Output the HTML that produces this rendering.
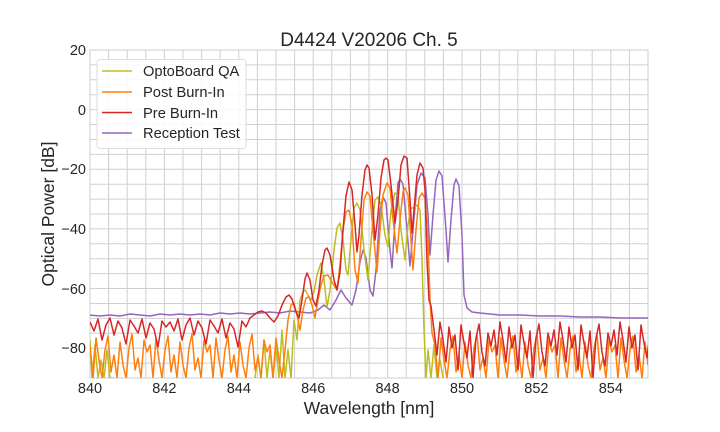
<!DOCTYPE html>
<html><head><meta charset="utf-8"><style>
html,body{margin:0;padding:0;background:#fff;}
svg{display:block;font-family:"Liberation Sans",Arial,sans-serif;}
</style></head><body>
<svg width="720" height="432" viewBox="0 0 720 432" xmlns="http://www.w3.org/2000/svg">
<defs><clipPath id="c"><rect x="90" y="50" width="558" height="328"/></clipPath></defs>
<rect x="0" y="0" width="720" height="432" fill="#fff"/>
<path stroke="#d0d0d0" stroke-width="1" fill="none" d="
M108.6 50V378M127.2 50V378M145.8 50V378M164.4 50V378M183 50V378M201.6 50V378M220.2 50V378M238.8 50V378M257.4 50V378M276 50V378M294.6 50V378M313.2 50V378M331.8 50V378M350.4 50V378M369 50V378M387.6 50V378M406.2 50V378M424.8 50V378M443.4 50V378M462 50V378M480.6 50V378M499.2 50V378M517.8 50V378M536.4 50V378M555 50V378M573.6 50V378M592.2 50V378M610.8 50V378M629.4 50V378
M90 64.9H648M90 79.8H648M90 94.7H648M90 109.6H648M90 124.5H648M90 139.5H648M90 154.4H648M90 169.3H648M90 184.2H648M90 199.1H648M90 214H648M90 228.9H648M90 243.8H648M90 258.7H648M90 273.6H648M90 288.5H648M90 303.5H648M90 318.4H648M90 333.3H648M90 348.2H648M90 363.1H648"/>
<rect x="90" y="50" width="558" height="328" fill="none" stroke="#cccccc" stroke-width="1"/>
<g clip-path="url(#c)" fill="none" stroke-width="1.5" stroke-linejoin="round">
<polyline stroke="#9467bd" points="88,315 100,316 110,315 120,316 130,314 140,315 150,316 160,314 170,315 180,314 190,315 200,314 210,315 220,313 230,314 240,313 250,314 260,313 270,312 280,313 290,311 300,312 310,313 318,310 324,305 330,310 336,300 341,290 346,298 352,305 356,290 360,262 363,250 366,258 370,290 373,296 376,270 380,210 383,197 386,203 390,250 392,268 395,220 398,183 400,179 403,184 407,230 410,266 413,230 417,185 421,173 425,178 428,215 430,255 433,215 436,180 439,171 442,176 446,230 448,262 451,220 454,185 456,179 459,186 462,235 464,295 467,308 472,312 480,313 490,314 500,315 520,315 540,316 560,316 580,317 600,317 620,318 648,318"/>
<polyline stroke="#bcbd22" points="90,340 92,378 95,345 98,378 101,360 104,378 107,350 110,378 113,378"/>
<polyline stroke="#bcbd22" points="255,378 258,355 261,378 264,340 267,378 270,350 273,378 276,345 279,378 282,330 285,378 288,350 291,378 294,320 297,340 300,300 303,292 305,290 308,295 311,300 314,292 317,275 321,263 324,280 327,307 330,290 334,250 337,228 340,223 343,240 346,270 348,275 351,240 354,208 357,203 360,210 364,250 368,280 372,230 375,200 378,197 381,205 385,235 388,247 391,210 395,193 398,196 401,230 405,260 408,225 411,208 413,208 417,205 420,210 422,260 424,330 426,378 428,350 431,378 434,345 437,378 440,360 443,378"/>
<polyline stroke="#ff7f0e" points="90,345 93,378 96,338 99,360 102,378 105,350 108,336 111,372 114,355 117,378 120,342 123,365 126,378 129,348 132,334 135,370 138,358 141,378 144,340 147,352 150,345 153,378 156,338 159,360 162,378 165,350 168,336 171,372 174,355 177,378 180,342 183,365 186,378 189,348 192,334 195,370 198,358 201,378 204,340 207,352 210,345 213,378 216,338 219,360 222,378 225,350 228,336 231,372 234,355 237,378 240,342 243,365 246,378 249,348 252,334 255,370 258,358 261,378 264,340 267,352 270,345 273,378 276,338 279,360 282,378 285,350 288,320 291,305 294,303 297,315 300,330 303,310 306,298 309,297 312,305 315,318 318,300 321,285 324,276 328,275 332,282 337,290 340,265 343,230 346,212 349,210 352,225 355,270 358,283 361,240 364,200 367,192 370,196 373,230 377,272 380,230 383,195 387,183 390,188 393,220 397,253 400,220 403,192 405,188 408,195 411,240 413,270 416,230 419,198 422,193 425,198 428,240 430,300 432,333 435,345 438,378 441,338 444,360 447,378 450,350 453,336 456,372 459,355 462,378 465,342 468,365 471,378 474,348 477,334 480,370 483,358 486,378 489,340 492,352 495,345 498,378 501,338 504,360 507,378 510,350 513,336 516,372 519,355 522,378 525,342 528,365 531,378 534,348 537,334 540,370 543,358 546,378 549,340 552,352 555,345 558,378 561,338 564,360 567,378 570,350 573,336 576,372 579,355 582,378 585,342 588,365 591,378 594,348 597,334 600,370 603,358 606,378 609,340 612,352 615,345 618,378 621,338 624,360 627,378 630,350 633,336 636,372 639,355 642,378 645,342 648,365"/>
<polyline stroke="#d62728" points="90,322 94,331 98,319 102,340 106,325 110,318 114,335 118,321 122,328 126,344 130,320 134,326 138,333 142,319 146,338 150,323 154,329 158,347 162,321 166,327 170,322 174,331 178,319 182,340 186,325 190,318 194,335 198,321 202,328 206,344 210,320 214,326 218,333 222,319 226,338 230,323 234,329 238,347 242,321 246,327 250,318 254,315 258,312 262,311 266,313 270,318 274,322 278,316 282,305 286,297 289,295 292,299 296,312 299,318 302,300 305,279 307,273 310,280 313,300 316,306 319,290 322,265 325,250 327,248 330,255 334,280 337,290 340,272 343,230 346,196 349,182 352,190 355,225 357,252 359,235 362,195 365,170 367,165 369,168 372,195 375,240 378,215 381,178 384,160 386,158 388,160 391,185 395,223 398,200 401,165 404,156 407,158 410,200 412,233 414,210 417,175 420,163 423,168 425,190 427,260 429,300 431,306 434,330 437,355 440,322 443,340 446,362 449,327 452,348 455,335 458,370 461,325 464,343 467,358 470,331 473,378 476,338 479,324 482,352 485,366 488,333 491,346 494,330 497,355 500,322 503,340 506,362 509,327 512,348 515,335 518,370 521,325 524,343 527,358 530,331 533,378 536,338 539,324 542,352 545,366 548,333 551,346 554,330 557,355 560,322 563,340 566,362 569,327 572,348 575,335 578,370 581,325 584,343 587,358 590,331 593,378 596,338 599,324 602,352 605,366 608,333 611,346 614,330 617,355 620,322 623,340 626,362 629,327 632,348 635,335 638,370 641,325 644,343 647,358 650,331"/>
</g>
<g font-size="14.5" fill="#262626" text-anchor="middle">
<text x="90" y="393">840</text><text x="164.4" y="393">842</text><text x="238.8" y="393">844</text><text x="313.2" y="393">846</text><text x="387.6" y="393">848</text><text x="462" y="393">850</text><text x="536.4" y="393">852</text><text x="610.8" y="393">854</text>
</g>
<g font-size="14.5" fill="#262626" text-anchor="end">
<text x="86" y="55">20</text><text x="86" y="115">0</text><text x="86" y="174">−20</text><text x="86" y="234">−40</text><text x="86" y="294">−60</text><text x="86" y="353">−80</text>
</g>
<text x="369" y="46" font-size="19" text-anchor="middle" fill="#262626">D4424 V20206 Ch. 5</text>
<text x="369" y="414" font-size="17.5" text-anchor="middle" fill="#262626">Wavelength [nm]</text>
<text transform="translate(54,214) rotate(-90)" font-size="17.5" text-anchor="middle" fill="#262626">Optical Power [dB]</text>
<rect x="97" y="59.5" width="149" height="89" rx="3" fill="#fff" fill-opacity="0.85" stroke="#dddddd"/>
<line x1="102" y1="71" x2="132" y2="71" stroke="#bcbd22" stroke-width="1.5"/>
<line x1="102" y1="92" x2="132" y2="92" stroke="#ff7f0e" stroke-width="1.5"/>
<line x1="102" y1="112.5" x2="132" y2="112.5" stroke="#d62728" stroke-width="1.5"/>
<line x1="102" y1="133" x2="132" y2="133" stroke="#9467bd" stroke-width="1.5"/>
<g font-size="14.7" fill="#262626">
<text x="143" y="76">OptoBoard QA</text>
<text x="143" y="97">Post Burn-In</text>
<text x="143" y="118">Pre Burn-In</text>
<text x="143" y="138">Reception Test</text>
</g>
</svg>
</body></html>
